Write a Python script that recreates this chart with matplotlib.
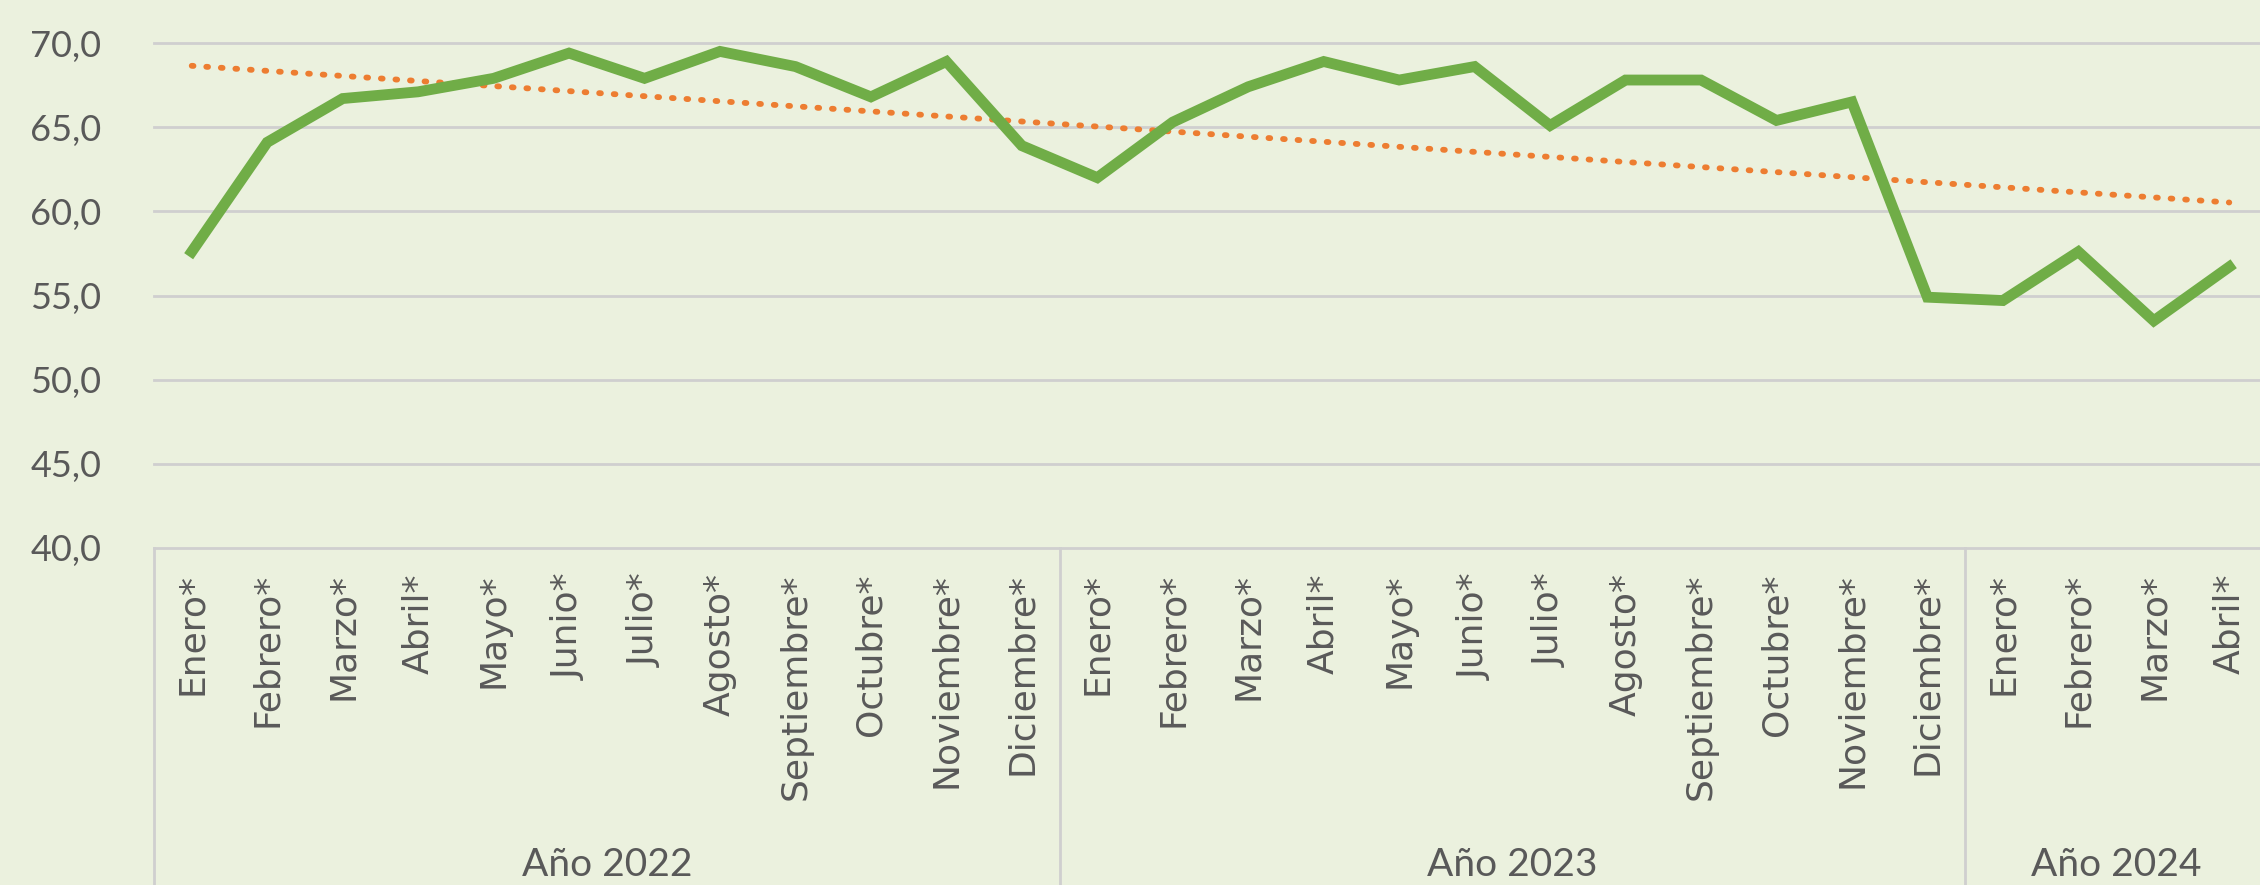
import numpy as np
import matplotlib
matplotlib.use("Agg")
import matplotlib.pyplot as plt
import matplotlib.transforms as mtransforms

# valores
meses = ["Enero*", "Febrero*", "Marzo*", "Abril*", "Mayo*", "Junio*", "Julio*",
         "Agosto*", "Septiembre*", "Octubre*", "Noviembre*", "Diciembre*"]
anios = ["Año 2022", "Año 2023", "Año 2024"]
meses_por_anio = [12, 12, 4]
valores_2022 = [57.6, 64.1, 66.7, 67.1, 67.9, 69.4, 67.9, 69.5, 68.6, 66.8, 68.9, 63.9]
valores_2023 = [62.0, 65.3, 67.4, 68.9, 67.8, 68.6, 65.1, 67.8, 67.8, 65.4, 66.5, 54.9]
valores_2024 = [54.7, 57.6, 53.5, 56.7]
yticks = [40, 45, 50, 55, 60, 65, 70]

valores = valores_2022 + valores_2023 + valores_2024
etiquetas = []
for n in meses_por_anio:
    etiquetas += meses[:n]
x = np.arange(len(valores))

bg = "#EBF1DE"
txt = "#595959"
W, H = 2260, 885
fig = plt.figure(figsize=(W / 100, H / 100), dpi=100, facecolor=bg)
# area del grafico en pixeles
left, right, top, bottom = 154, 2267, 43, 548
ax = fig.add_axes([left / W, 1 - bottom / H, (right - left) / W, (bottom - top) / H])
ax.set_facecolor(bg)

ax.set_xlim(-0.5, len(valores) - 0.5)
ax.set_ylim(40, 70)
ax.set_yticks(yticks)
ax.set_yticklabels([f"{v:.1f}".replace(".", ",") for v in yticks],
                   fontfamily="Lato", fontsize=26, color=txt)
ax.tick_params(axis="y", length=0, pad=38)
for s in ax.spines.values():
    s.set_visible(False)
for v in yticks:
    ax.axhline(v, color="#CFCFCF", lw=2.0, zorder=1, clip_on=False)

# serie y linea de tendencia
ax.plot(x, valores, color="#70AD47", lw=7.8, solid_joinstyle="miter", zorder=3)
coef = np.polyfit(x, valores, 1)
ax.plot(x, np.polyval(coef, x), color="#ED7D31", lw=4.2,
        linestyle=(0, (0.3, 2.2)), dash_capstyle="round", zorder=2)

ax.set_xticks(x)
ax.set_xticklabels(etiquetas, rotation=90, va="top", ha="center",
                   fontfamily="DejaVu Sans", fontsize=26, color=txt)
ax.tick_params(axis="x", length=0, pad=18)

# separadores y etiquetas de anio
tr = mtransforms.blended_transform_factory(ax.transData, ax.transAxes)
fondo = -(H - bottom) / (bottom - top)
inicio = -0.5
ax.plot([inicio, inicio], [0, fondo], color="#CFCFCF", lw=2, transform=tr, clip_on=False)
for anio, n in zip(anios, meses_por_anio):
    fin = inicio + n
    ax.plot([fin, fin], [0, fondo], color="#CFCFCF", lw=2, transform=tr, clip_on=False)
    ax.text((inicio + fin) / 2, fondo + 20 / (bottom - top), anio, transform=tr,
            ha="center", va="center", fontfamily="Lato", fontsize=28, color=txt)
    inicio = fin

fig.savefig("out.png", dpi=100, facecolor=bg)
